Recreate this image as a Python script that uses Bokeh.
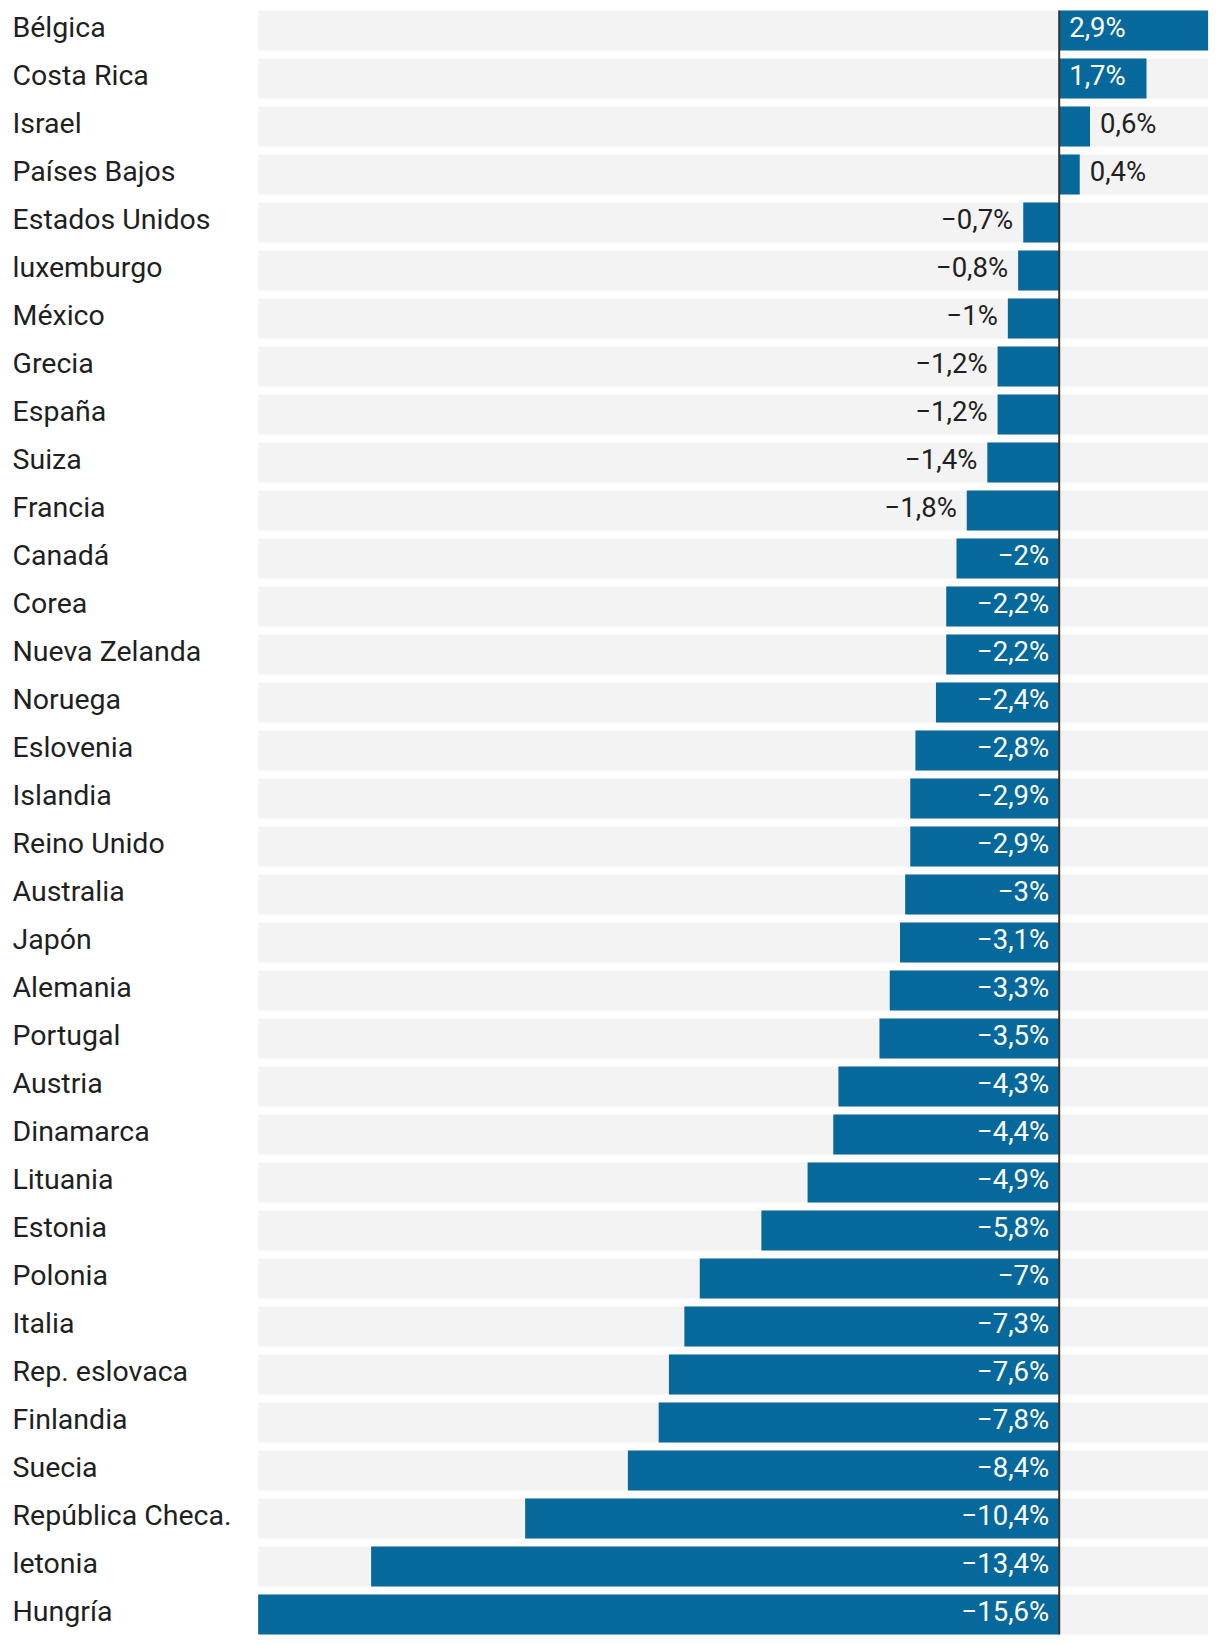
from bokeh.plotting import figure
from bokeh.models import Range1d, ColumnDataSource
from bokeh.core.properties import value
from bokeh.embed import file_html
from bokeh.resources import INLINE

countries = ["Bélgica", "Costa Rica", "Israel", "Países Bajos", "Estados Unidos",
             "luxemburgo", "México", "Grecia", "España", "Suiza", "Francia", "Canadá",
             "Corea", "Nueva Zelanda", "Noruega", "Eslovenia", "Islandia", "Reino Unido",
             "Australia", "Japón", "Alemania", "Portugal", "Austria", "Dinamarca",
             "Lituania", "Estonia", "Polonia", "Italia", "Rep. eslovaca", "Finlandia",
             "Suecia", "República Checa.", "letonia", "Hungría"]
values = [2.9, 1.7, 0.6, 0.4, -0.7, -0.8, -1.0, -1.2, -1.2, -1.4, -1.8, -2.0,
          -2.2, -2.2, -2.4, -2.8, -2.9, -2.9, -3.0, -3.1, -3.3, -3.5, -4.3, -4.4,
          -4.9, -5.8, -7.0, -7.3, -7.6, -7.8, -8.4, -10.4, -13.4, -15.6]

W, H = 1220, 1644
PX_PER_UNIT = 51.35
ZERO_PX = 1058.7
ROW = 48.0
FIRST_CENTER = 30.0

x_left = -ZERO_PX / PX_PER_UNIT
x_right = (W - ZERO_PX) / PX_PER_UNIT
y_top = -FIRST_CENTER / ROW
y_bottom = (H - FIRST_CENTER) / ROW

vmin, vmax = min(values), max(values)
idx = list(range(len(countries)))


def fmt(v):
    s = ("%.1f" % abs(v)).rstrip("0").rstrip(".").replace(".", ",")
    return ("\u2212" if v < 0 else "") + s + "%"


p = figure(width=W, height=H, output_backend="svg", toolbar_location=None,
           x_range=Range1d(x_left, x_right), y_range=Range1d(y_bottom, y_top),
           min_border=0, min_border_left=0, min_border_right=0,
           min_border_top=0, min_border_bottom=0)
p.axis.visible = False
p.grid.visible = False
p.outline_line_color = None
p.background_fill_color = "white"
p.border_fill_color = "white"

bar_h = 40.0 / ROW

# background tracks
p.hbar(y=idx, left=[vmin] * len(idx), right=[vmax] * len(idx), height=bar_h,
       fill_color="#F3F3F3", line_color=None)
# bars
p.hbar(y=idx, left=[0] * len(idx), right=values, height=bar_h,
       fill_color="#07699B", line_color=None)
# zero line
p.segment(x0=[0], x1=[0], y0=[-bar_h / 2], y1=[len(idx) - 1 + bar_h / 2],
          line_color="#333333", line_width=2)

# country labels
p.text(x=[x_left] * len(idx), y=idx, text=countries, x_offset=12, y_offset=-3,
       text_font=value("Roboto"), text_font_size="28.5px", text_color="#1f1f1f",
       text_baseline="middle", text_align="left")

# value labels
pad = 10.0 / PX_PER_UNIT
in_x, in_y, in_t, in_a = [], [], [], []
out_x, out_y, out_t, out_a = [], [], [], []
for i, v in enumerate(values):
    t = fmt(v)
    inside = (v >= 1.0) or (v <= -2.0)
    if inside:
        in_x.append(pad if v > 0 else -pad)
        in_y.append(i)
        in_t.append(t)
        in_a.append("left" if v > 0 else "right")
    else:
        out_x.append(v + pad if v > 0 else v - pad)
        out_y.append(i)
        out_t.append(t)
        out_a.append("left" if v > 0 else "right")

p.text(source=ColumnDataSource(dict(x=in_x, y=in_y, t=in_t, a=in_a)),
       x="x", y="y", text="t", text_align="a", text_baseline="middle", y_offset=-3,
       text_font=value("Roboto"), text_font_size="27.5px", text_color="white")
p.text(source=ColumnDataSource(dict(x=out_x, y=out_y, t=out_t, a=out_a)),
       x="x", y="y", text="t", text_align="a", text_baseline="middle", y_offset=-3,
       text_font=value("Roboto"), text_font_size="27.5px", text_color="#1f1f1f")

open("out.html", "w").write(file_html(p, INLINE))
